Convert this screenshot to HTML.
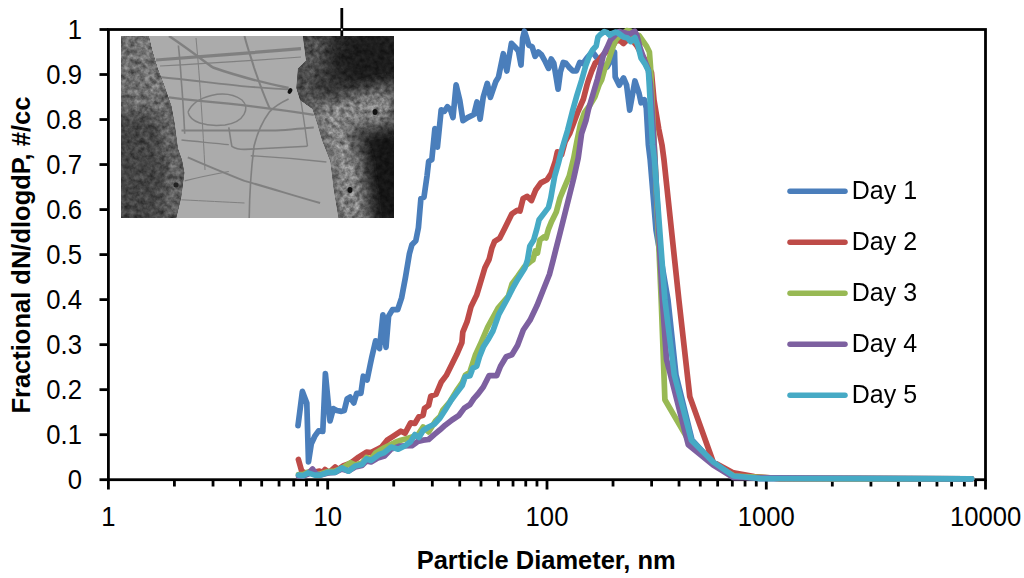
<!DOCTYPE html>
<html><head><meta charset="utf-8"><style>
html,body{margin:0;padding:0;background:#fff;}
body{width:1024px;height:578px;overflow:hidden;}
svg{display:block;}
text{font-family:"Liberation Sans",sans-serif;fill:#000;}
</style></head><body>
<svg width="1024" height="578" viewBox="0 0 1024 578">
<defs>
<filter id="tex" x="0" y="0" width="100%" height="100%" color-interpolation-filters="sRGB">
<feTurbulence type="fractalNoise" baseFrequency="0.2" numOctaves="3" seed="7" result="t"/>
<feColorMatrix in="t" type="matrix" values="1 0 0 0 0  1 0 0 0 0  1 0 0 0 0  0 0 0 0 1" result="g"/>
<feComposite in="SourceGraphic" in2="g" operator="arithmetic" k1="1.2" k2="0.4" k3="0" k4="0" result="c"/>
<feComposite in="c" in2="SourceAlpha" operator="in"/>
</filter>
<filter id="soft" x="-20%" y="-20%" width="140%" height="140%"><feGaussianBlur stdDeviation="3"/></filter>
<filter id="soft2" x="-20%" y="-20%" width="140%" height="140%"><feGaussianBlur stdDeviation="1.2"/></filter>
<filter id="blur8" x="-50%" y="-50%" width="200%" height="200%"><feGaussianBlur stdDeviation="8"/></filter>
<clipPath id="lclip"><polygon points="110,25 148.7,25 148.7,36 152,50 157.6,68.5 164,85 171.4,106 174.7,124 177.9,148.4 182,160 184.4,172.8 181.2,197.2 176.3,218 176.3,230 110,230"/></clipPath>
<clipPath id="rclip"><polygon points="302.8,25 302.8,36 306,60.4 297.9,68.5 296.3,88 300,100 312.5,109 317.4,124 322,140 330.4,161.4 333.7,189 338.5,218 338.5,230 405,230 405,25"/></clipPath>
<clipPath id="ic"><rect x="121" y="36" width="273" height="182"/></clipPath>
<linearGradient id="lg" gradientUnits="userSpaceOnUse" x1="0" y1="36" x2="0" y2="218">
<stop offset="0" stop-color="#6a6a6a"/><stop offset="0.35" stop-color="#626262"/><stop offset="0.5" stop-color="#4e4e4e"/><stop offset="1" stop-color="#474747"/>
</linearGradient>
<linearGradient id="rg" gradientUnits="userSpaceOnUse" x1="296" y1="0" x2="394" y2="0">
<stop offset="0" stop-color="#727272"/><stop offset="0.35" stop-color="#555"/><stop offset="0.7" stop-color="#333"/><stop offset="1" stop-color="#1c1c1c"/>
</linearGradient>
</defs>
<g clip-path="url(#ic)">
<rect x="121" y="36" width="273" height="182" fill="#ababab"/>
<g fill="none" stroke="#7c7c7c" opacity="0.9"><path d="M156,60 C200,57 260,52 301,48.6" stroke-width="3.2"/><path d="M160,66 C200,64 260,60 301,57" stroke-width="1.2"/><path d="M169,36 C190,50 205,62 213,67.5 C240,77 265,83 288.6,88" stroke-width="2.4"/><path d="M244.5,36 C248,50 252,60 254,67.5 C260,85 265,98 269.7,108.5" stroke-width="2.0"/><path d="M178.4,45.5 C180,60 181,75 181.5,83.3 C183,100 184,120 184.7,133.7" stroke-width="1.6"/><path d="M159.5,77 C190,80 220,84 244.5,86.4 C265,88 280,89 291.8,89.6" stroke-width="1.8"/><path d="M168.9,97.4 C190,100 210,102 228.8,103.7 C260,107 290,111 313.8,114.8" stroke-width="2.2"/><path d="M188,112 C195,96 225,88 242,100 C250,108 245,122 225,125 C205,127 190,122 188,112" stroke-width="1.4"/><path d="M288.6,99 C280,103 274,107 269.7,111.6 C262,122 257,134 254,146.3 C251,170 249.5,195 249.2,218" stroke-width="1.6"/><path d="M181.5,130.5 C215,130.5 250,130.5 276,130.5 C290,130 302,128 313.8,127.4" stroke-width="2.0"/><path d="M228.8,127.4 C230,135 231,142 231.9,146.3 C236,149 240,149.4 244.5,149.4 C265,148.5 290,147 307.5,146.3" stroke-width="1.6"/><path d="M181.5,140 C200,142 215,143 228.8,144.7" stroke-width="1.3"/><path d="M187.8,157.3 C205,165 225,173 244.5,180.9 C270,188 295,196 320.1,203" stroke-width="2.0"/><path d="M184.7,180.9 C200,177 215,174 228.8,171.5" stroke-width="1.2"/><path d="M250.8,155.7 C275,157 300,159 326.4,162" stroke-width="1.4"/><path d="M298,83 C301,100 304,120 307.5,146" stroke-width="1.4"/><path d="M181.5,199.8 C205,201 225,202 244.5,203" stroke-width="1.0"/><path d="M196,38 C200,80 203,130 205,170" stroke-width="1.0"/></g>
<g filter="url(#tex)">
<g clip-path="url(#lclip)">
<rect x="110" y="25" width="90" height="205" fill="#444"/>
<g filter="url(#blur8)">
<polygon points="110,25 160,25 172,95 160,112 110,112" fill="#6c6c6c"/>
<polyline points="148.7,36 152,50 157.6,68.5 164,85 171.4,106 174.7,124 177.9,148.4 182,160 184.4,172.8 181.2,197.2 176.3,218" transform="translate(-6,0)" fill="none" stroke="#787878" stroke-width="12"/>
</g>
</g>
<g clip-path="url(#rclip)">
<rect x="280" y="25" width="125" height="205" fill="#343434"/>
<g filter="url(#blur8)">
<ellipse cx="372" cy="58" rx="40" ry="34" fill="#1c1c1c"/>
<ellipse cx="386" cy="178" rx="28" ry="55" fill="#181818"/>
<polyline points="302.8,30 306,60.4 297.9,68.5 296.3,88 300,100 312.5,109" transform="translate(8,0)" fill="none" stroke="#5e5e5e" stroke-width="14"/>
<polyline points="312.5,109 317.4,124 322,140 330.4,161.4 333.7,189 338.5,225" transform="translate(14,0)" fill="none" stroke="#8a8a8a" stroke-width="28"/>
<polygon points="313,106 394,88 394,120 330,130" fill="#888"/>
</g>
</g>
</g>
</g>
</g>
<ellipse cx="375" cy="112" rx="2.5" ry="3" fill="#111"/><ellipse cx="350" cy="190" rx="2.5" ry="3" fill="#111"/><ellipse cx="290" cy="91" rx="2" ry="3" fill="#111" transform="rotate(30 290 91)"/><ellipse cx="176" cy="185" rx="2.5" ry="2.5" fill="#222"/>
</g>
<g stroke="#000" stroke-width="2.8" fill="none" stroke-linecap="butt">
<rect x="108.4" y="29.5" width="877.1" height="450.2"/>
<line x1="99.5" y1="479.70" x2="108.4" y2="479.70"/><line x1="99.5" y1="434.68" x2="108.4" y2="434.68"/><line x1="99.5" y1="389.66" x2="108.4" y2="389.66"/><line x1="99.5" y1="344.64" x2="108.4" y2="344.64"/><line x1="99.5" y1="299.62" x2="108.4" y2="299.62"/><line x1="99.5" y1="254.60" x2="108.4" y2="254.60"/><line x1="99.5" y1="209.58" x2="108.4" y2="209.58"/><line x1="99.5" y1="164.56" x2="108.4" y2="164.56"/><line x1="99.5" y1="119.54" x2="108.4" y2="119.54"/><line x1="99.5" y1="74.52" x2="108.4" y2="74.52"/><line x1="99.5" y1="29.50" x2="108.4" y2="29.50"/><line x1="108.40" y1="479.7" x2="108.40" y2="489.5"/><line x1="174.42" y1="479.7" x2="174.42" y2="486.5"/><line x1="213.03" y1="479.7" x2="213.03" y2="486.5"/><line x1="240.43" y1="479.7" x2="240.43" y2="486.5"/><line x1="261.68" y1="479.7" x2="261.68" y2="486.5"/><line x1="279.05" y1="479.7" x2="279.05" y2="486.5"/><line x1="293.73" y1="479.7" x2="293.73" y2="486.5"/><line x1="306.45" y1="479.7" x2="306.45" y2="486.5"/><line x1="317.67" y1="479.7" x2="317.67" y2="486.5"/><line x1="327.70" y1="479.7" x2="327.70" y2="489.5"/><line x1="393.72" y1="479.7" x2="393.72" y2="486.5"/><line x1="432.33" y1="479.7" x2="432.33" y2="486.5"/><line x1="459.73" y1="479.7" x2="459.73" y2="486.5"/><line x1="480.98" y1="479.7" x2="480.98" y2="486.5"/><line x1="498.35" y1="479.7" x2="498.35" y2="486.5"/><line x1="513.03" y1="479.7" x2="513.03" y2="486.5"/><line x1="525.75" y1="479.7" x2="525.75" y2="486.5"/><line x1="536.97" y1="479.7" x2="536.97" y2="486.5"/><line x1="547.00" y1="479.7" x2="547.00" y2="489.5"/><line x1="613.02" y1="479.7" x2="613.02" y2="486.5"/><line x1="651.63" y1="479.7" x2="651.63" y2="486.5"/><line x1="679.03" y1="479.7" x2="679.03" y2="486.5"/><line x1="700.28" y1="479.7" x2="700.28" y2="486.5"/><line x1="717.65" y1="479.7" x2="717.65" y2="486.5"/><line x1="732.33" y1="479.7" x2="732.33" y2="486.5"/><line x1="745.05" y1="479.7" x2="745.05" y2="486.5"/><line x1="756.27" y1="479.7" x2="756.27" y2="486.5"/><line x1="766.30" y1="479.7" x2="766.30" y2="489.5"/><line x1="832.32" y1="479.7" x2="832.32" y2="486.5"/><line x1="870.93" y1="479.7" x2="870.93" y2="486.5"/><line x1="898.33" y1="479.7" x2="898.33" y2="486.5"/><line x1="919.58" y1="479.7" x2="919.58" y2="486.5"/><line x1="936.95" y1="479.7" x2="936.95" y2="486.5"/><line x1="951.63" y1="479.7" x2="951.63" y2="486.5"/><line x1="964.35" y1="479.7" x2="964.35" y2="486.5"/><line x1="975.57" y1="479.7" x2="975.57" y2="486.5"/><line x1="985.50" y1="479.7" x2="985.50" y2="489.5"/>
<line x1="341.8" y1="8" x2="341.8" y2="36"/>
</g>
<rect x="341" y="28.7" width="1.6" height="1.6" fill="#fff"/>
<g fill="none" stroke-width="5.7" stroke-linejoin="round" stroke-linecap="round">
<polyline points="298,425.7 302.4,391.4 306.8,402.9 308.5,461.9 311.3,443.8 314.8,436.2 318.6,430.9 322.8,431.4 325.4,373.7 330,421 333.4,408.6 336.7,410.5 341.4,411.4 344.3,410.5 347.1,399 350,397.1 353.8,402.9 356.7,393.3 360.9,393.3 363.3,376.2 367.1,380 370,365.7 371.7,357.7 375.6,340.8 379.5,348.6 382.9,314.8 386,347.3 388.6,316.1 392.5,309.6 397.7,309.6 401.6,297.9 405.5,277.1 409.4,253.8 411.9,244.7 415.8,240.8 418.4,227.8 420.9,198.6 424,197.1 427.1,175.3 428.7,161.2 431.8,159.7 434.9,128.5 437.4,147.2 441.2,109.8 444.3,111.4 447.4,106.7 450.5,109.8 453,117.6 456.1,84.9 459.8,100.5 463,120.7 467.6,117.6 473.9,114.5 477,102 480.1,119.2 483.2,97.4 487.3,83.4 490.4,97.4 495.7,81.8 498.5,77.1 503.3,53.7 506.8,71 511.4,43.4 515.8,47.7 518.4,51.1 521,65 522.7,38.2 524.4,31.2 527,39 528.7,45.1 532.2,46.8 535.1,56.3 538.3,52 541.4,54.6 545.2,61.5 548.6,68.4 551.2,58.9 553.8,63.3 556.4,78.8 558.1,89.2 560.4,71.9 563.3,62.4 565.9,63.3 569.4,67.6 572.9,71 576.3,71 579.8,62.4 583,63.5 587,58 590.5,54 593.5,53.2 597,58 600,62 604,66 607,67 610,62 613,55 614.5,52 615.2,76.9 619.3,85.2 623.5,77.9 626.6,85.2 629.7,110.1 634.9,81 639.1,93.5 641.1,102.8 644.3,99.7 646.3,108 648.4,145 650.2,160 656,230 668,300 676,375 692,440 713,463 733.5,476 760,478.6 971.5,478.8" stroke="#4a7ebb"/><polyline points="298.4,459.5 301.8,471.5 304.6,472.5 310,473 315,472 319.6,471 322,473 325,469.5 329,472.5 335.1,467 338,469.5 343,466 350,463.5 358.6,457.1 366.5,452.1 371,452.6 377.4,449.2 381.6,447.1 387.1,440.2 392.6,436.7 400.9,431.2 405.1,433.2 410.6,422.9 414.8,423.5 418.9,416.6 423.1,415.2 424.5,408.3 428.6,405.5 430.8,396.1 436,394.4 441.1,382.3 446.3,375.4 451.5,365 456.7,354.6 461.9,342.5 462.8,332.1 467.1,321.7 471.1,306.4 476.6,295.3 480.8,281.5 484.9,267.7 489.1,259.4 491.8,248.3 494.6,241.4 499.8,238.1 505,227.7 511.9,213.8 517.1,210.4 520,211 523.1,198.5 527.3,196.4 531.4,200.6 535.6,190.2 540.8,182.9 547,179.8 551.1,173.6 555.3,161.1 557.4,151.8 561.5,154.9 565,142 569.7,133.4 577.5,112.7 583.4,99 587,85 588.5,80 591.7,71.1 595.3,63 598,61.3 602,56 607,51 612,47 616,41 620,40.5 623.5,43.5 627,40 632,40 637,46 642,55 647,63 651.5,72.8 654,100 658.8,129.2 662,145 664,160 678.9,300 689.8,396.6 713.2,462 733.5,472.9 754.3,476.6 780,478.6 971.5,478.8" stroke="#be4b48"/><polyline points="298.5,474.5 303.5,474.5 308,472 314.7,474 320.4,474 328.2,471.5 335,471 341.7,468.5 350.7,462.7 355.2,465 362,463 366.5,457.5 371,459 376,452.6 384.3,447.8 395.4,442.2 400.9,440.2 406.5,438.8 417.6,435.3 423.1,427 428.6,431.9 435.6,420.8 440,416.6 442.9,410 449.7,402 456.4,391 462,383 465.4,375 469.9,372 475.5,354.7 480,345 487.7,327 498.1,308 508.4,296 512,284 518,276 524.5,266.7 530,262 532.9,260 535.3,250.9 537.5,253 539.9,240 543.8,236.9 546,238 548.5,229.1 551.6,221.4 556.3,212 560,198 562.5,191.9 569.2,176.2 573.7,158.2 577.1,140.2 580.4,124.5 584.4,112.7 590,105 594.8,97.1 599,85 601.6,80 604.3,70.2 607.9,62.2 610.6,54.1 613.3,46 616,39.7 619.6,36.1 626.5,30.7 630.6,31.2 633.8,40.6 639,35.4 646.3,45.8 649.4,52 650.5,66.5 651.4,85 652,100 655,160 661.2,300 664.9,399.7 686.7,437.1 713.2,463.6 734,476 780,478.4 971.5,478.8" stroke="#98b954"/><polyline points="298.5,476 303,476 308,474 312.6,469 316,474 320.4,475 328.2,473 335,472.5 341.7,469 348.5,471 355.2,467 362,465.5 366.5,461 371,462 377.7,458 384.5,456 391.2,449.1 400,446 412,445.7 417.6,441.6 423.1,440.2 428.6,439.5 434.2,434.6 440,429.8 445.2,425.2 452,420 458.6,415.7 464.3,408.1 470,404.5 473.8,398.6 478,394 483.3,387.1 489,375.7 496.7,375.7 500.5,366.2 506.2,356.7 511.9,354.8 517.6,345.2 523.3,330 530,320.2 537,305.6 543.2,290 549.4,274.5 553.2,260 555.7,250 560.2,232.4 564.7,214.4 569.2,196.4 573.7,178.4 578.2,158.2 581.6,133.5 586.1,120 588.5,109.2 596,84 597.5,79 600.5,66.7 603.4,55 607,47.8 610.6,39.7 613.3,37 616,34 619.2,31.5 626.5,33.3 630,34 634.8,31.2 636.9,35.4 640,47.8 644.1,59.2 648.3,69.6 650.4,85 652,110 655,160 662.4,300 666.5,359.2 688.3,444.9 713.2,465.1 733.5,477.6 971.5,478.8" stroke="#7d60a0"/><polyline points="298.5,475.1 303.5,475.7 308,472.9 314.7,475.1 320.4,475.1 328.2,472.3 335,472.3 341.7,467.8 348.5,471.2 355.2,466.1 362,464.4 366.5,458.8 371,460.5 378.8,454.7 384.3,452.6 391.2,447.1 398.2,449.2 405.1,445.7 410.6,441.6 414.8,434.6 418.9,437.4 423.1,430.5 428.6,427 434.2,424.2 440,418 445.2,410 451,400.5 456.7,392.9 462.4,385.2 465.2,376.7 470,375.7 472.9,368.1 476.7,366.2 479.5,356.7 483.3,347.1 488.1,339.5 492.9,331 498.7,314.7 507,299.5 512.6,288.4 518.1,278.7 525,267.7 527.5,260 529.8,246.3 533.7,240 536.8,229.1 539.1,219.8 543.8,213.6 548.5,207.4 550.8,198 552.4,188.7 554.7,176.2 558.4,163.2 561.5,150.8 564.6,140.4 567.7,130 572.8,110 577,95 581.7,80 585.7,65.7 589.5,55.5 592.6,50 596.2,46 598,37 600.7,34.3 604.3,31.6 607,32.5 609.7,35.2 612.4,33.4 616,32 618.7,33.4 623.4,36.9 627.5,38 630.6,41.6 635,37.5 638,45.8 641.1,58.2 645.3,64.4 648.4,70.7 649.4,87.3 650.5,108 652.6,145 654.5,160 664.9,300 674.3,374.8 691.4,440.2 713.2,462 733.5,476 760,478.4 971.5,478.8" stroke="#46aac5"/>
</g>
<g stroke-width="5.5" stroke-linecap="round"><line x1="790" y1="191.3" x2="845" y2="191.3" stroke="#4a7ebb"/><line x1="790" y1="242.3" x2="845" y2="242.3" stroke="#be4b48"/><line x1="790" y1="293.3" x2="845" y2="293.3" stroke="#98b954"/><line x1="790" y1="344.3" x2="845" y2="344.3" stroke="#7d60a0"/><line x1="790" y1="395.3" x2="845" y2="395.3" stroke="#46aac5"/></g>
<g font-size="25.5"><text x="851.8" y="198.7" textLength="65.3" lengthAdjust="spacingAndGlyphs">Day 1</text><text x="851.8" y="249.7" textLength="65.3" lengthAdjust="spacingAndGlyphs">Day 2</text><text x="851.8" y="300.7" textLength="65.3" lengthAdjust="spacingAndGlyphs">Day 3</text><text x="851.8" y="351.7" textLength="65.3" lengthAdjust="spacingAndGlyphs">Day 4</text><text x="851.8" y="402.7" textLength="65.3" lengthAdjust="spacingAndGlyphs">Day 5</text></g>
<g font-size="27"><text transform="translate(82,489.0) scale(0.95,1)" text-anchor="end">0</text><text transform="translate(82,444.0) scale(0.95,1)" text-anchor="end">0.1</text><text transform="translate(82,399.0) scale(0.95,1)" text-anchor="end">0.2</text><text transform="translate(82,353.9) scale(0.95,1)" text-anchor="end">0.3</text><text transform="translate(82,308.9) scale(0.95,1)" text-anchor="end">0.4</text><text transform="translate(82,263.9) scale(0.95,1)" text-anchor="end">0.5</text><text transform="translate(82,218.9) scale(0.95,1)" text-anchor="end">0.6</text><text transform="translate(82,173.9) scale(0.95,1)" text-anchor="end">0.7</text><text transform="translate(82,128.8) scale(0.95,1)" text-anchor="end">0.8</text><text transform="translate(82,83.8) scale(0.95,1)" text-anchor="end">0.9</text><text transform="translate(82,38.8) scale(0.95,1)" text-anchor="end">1</text><text transform="translate(108.4,526.1) scale(0.95,1)" text-anchor="middle">1</text><text transform="translate(327.7,526.1) scale(0.95,1)" text-anchor="middle">10</text><text transform="translate(547.0,526.1) scale(0.95,1)" text-anchor="middle">100</text><text transform="translate(766.3,526.1) scale(0.95,1)" text-anchor="middle">1000</text><text transform="translate(985.6,526.1) scale(0.95,1)" text-anchor="middle">10000</text></g>
<text x="416.7" y="569" font-size="25.5" font-weight="bold" textLength="259" lengthAdjust="spacingAndGlyphs">Particle Diameter, nm</text>
<text transform="translate(29.5,413.6) rotate(-90)" font-size="25.5" font-weight="bold">Fractional dN/dlogdP, #/cc</text>
</svg>
</body></html>
